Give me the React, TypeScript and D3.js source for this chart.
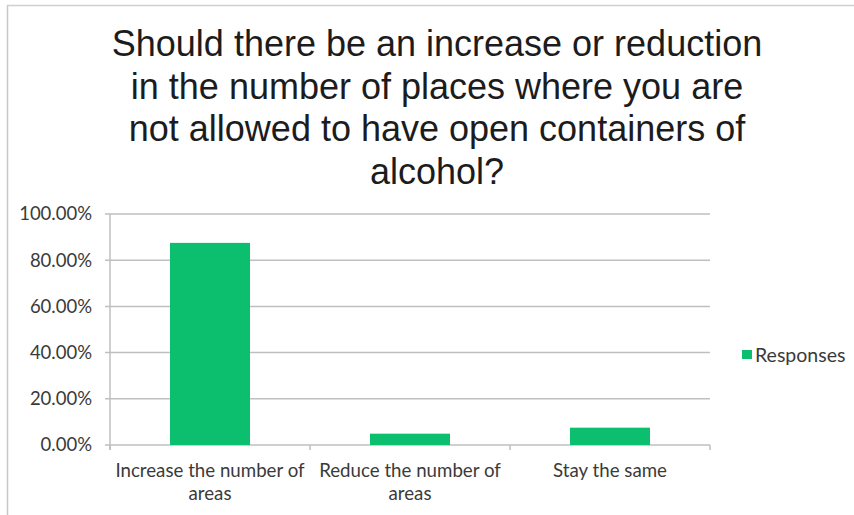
import React from "react";
import * as d3 from "d3";

const titleLines = [
  "Should there be an increase or reduction",
  "in the number of places where you are",
  "not allowed to have open containers of",
  "alcohol?",
];
const categories = ["Increase the number of areas", "Reduce the number of areas", "Stay the same"];
const categoryLines = [["Increase the number of", "areas"], ["Reduce the number of", "areas"], ["Stay the same"]];
const values = [0.875, 0.049, 0.075];
const yTicks = [0, 0.2, 0.4, 0.6, 0.8, 1.0];
const seriesName = "Responses";

const W = 854;
const H = 515;
const plot = { left: 110, right: 710, top: 214, bottom: 445 };
const green = "#0cbf6e";
const gridColor = "#bfbfbf";
const labelFont = "Lato, 'Open Sans', sans-serif";

export default function App() {
  const x = d3.scaleBand<string>().domain(categories).range([plot.left, plot.right]).paddingInner(0.6).paddingOuter(0.3);
  const xStep = d3.scaleBand<string>().domain(categories).range([plot.left, plot.right]);
  const y = d3.scaleLinear().domain([0, 1]).range([plot.bottom, plot.top]);
  const fmt = (v: number) => (v * 100).toFixed(2) + "%";
  const boundaries = [plot.left, ...categories.map((c) => (xStep(c) as number) + xStep.bandwidth())];

  return (
    <svg width={W} height={H} style={{ position: "absolute", left: 0, top: 0, background: "#fff" }}>
      <rect x={0} y={0} width={W} height={H} fill="#fff" />
      {/* frame */}
      <line x1={7.5} y1={5} x2={7.5} y2={H} stroke="#c8c8c8" strokeWidth={1.5} />
      <line x1={7} y1={5.5} x2={W} y2={5.5} stroke="#cfcfcf" strokeWidth={1.5} />

      {/* title */}
      <g fontFamily="'Liberation Sans', Arial, sans-serif" fontSize={36} fill="#1c1c1c" textAnchor="middle">
        {titleLines.map((t, i) => (
          <text key={i} x={437} y={56 + i * 42.5}>{t}</text>
        ))}
      </g>

      {/* grid lines and y ticks */}
      {yTicks.map((t) => (
        <g key={t}>
          <line x1={plot.left - 5} x2={plot.right} y1={y(t)} y2={y(t)} stroke={gridColor} strokeWidth={1.5} />
          <text x={92} y={y(t)} dy="0.35em" textAnchor="end" fontFamily={labelFont} fontSize={18.5} fill="#3a3a3a">
            {fmt(t)}
          </text>
        </g>
      ))}
      {/* y axis */}
      <line x1={plot.left} x2={plot.left} y1={plot.top} y2={plot.bottom + 5} stroke={gridColor} strokeWidth={1.5} />
      {/* x ticks */}
      {boundaries.map((b, i) => (
        <line key={i} x1={b} x2={b} y1={plot.bottom} y2={plot.bottom + 5} stroke={gridColor} strokeWidth={1.5} />
      ))}

      {/* bars */}
      {categories.map((c, i) => (
        <rect key={c} x={x(c)} y={y(values[i])} width={x.bandwidth()} height={y(0) - y(values[i])} fill={green} />
      ))}

      {/* x labels */}
      {categories.map((c, i) => (
        <text key={c} textAnchor="middle" fontFamily={labelFont} fontSize={18.7} fill="#3a3a3a">
          {categoryLines[i].map((l, j) => (
            <tspan key={j} x={(x(c) as number) + x.bandwidth() / 2} y={477 + j * 23}>{l}</tspan>
          ))}
        </text>
      ))}

      {/* legend */}
      <rect x={742} y={350} width={10} height={9} fill={green} />
      <text x={755} y={355} dy="0.35em" fontFamily={labelFont} fontSize={19.5} fill="#3a3a3a">{seriesName}</text>
    </svg>
  );
}
